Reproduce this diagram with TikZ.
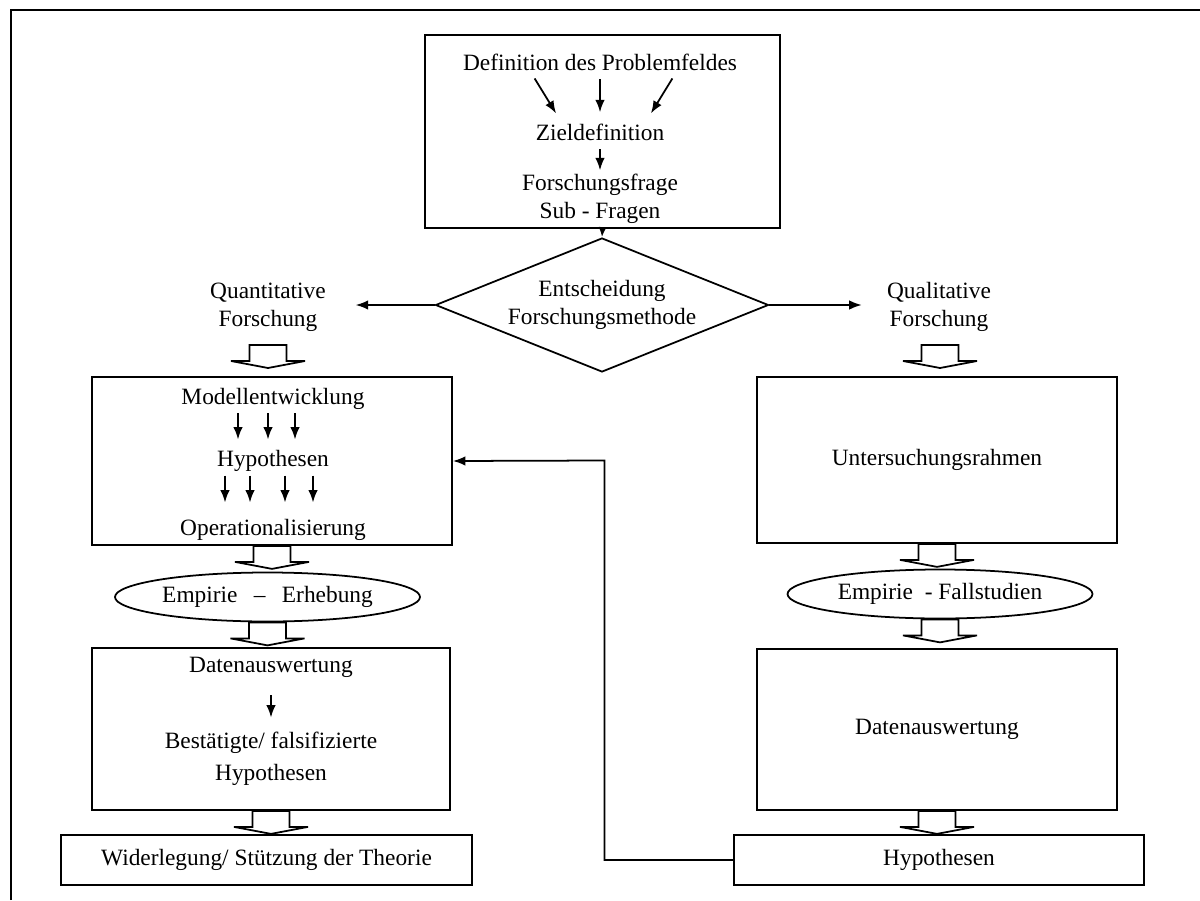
\documentclass[tikz,border=0pt]{standalone}
\usepackage{fontspec}
\setmainfont{Liberation Serif}
\usepackage{tikz}
\usetikzlibrary{shapes.geometric, arrows.meta, positioning, calc}

\begin{document}
\begin{tikzpicture}[
        every node/.style={font=\fontsize{13.3}{16}\selectfont},
        boxstyle/.style={
            rectangle, 
            draw=black, 
            line width=1pt, 
            inner sep=0pt, 
            align=center
        },
        txt/.style={inner sep=2pt, align=center},
        ovalbox/.style={ellipse, draw=black, line width=1pt, inner sep=0pt, minimum width=6.1cm, minimum height=0.98cm},
        decbox/.style={diamond, draw=black, line width=1pt, inner sep=0pt, aspect=2.5, minimum width=6.66cm, minimum height=2.68cm, align=center},
        arr/.style={-{Latex[length=2.5mm, width=1.9mm]}, line width=1pt},
        hollowarrow/.pic={
            \draw[line width=1pt, fill=white] (-0.37,0) -- (-0.37,-0.32) -- (-0.74,-0.32) -- (0,-0.46)
                -- (0.74,-0.32) -- (0.37,-0.32) -- (0.37,0) -- cycle;
        }
    ]
        \useasboundingbox (0,0) rectangle (24,18);
        \draw[line width=1.4pt] (0.22,0) -- (0.22,17.8) -- (24,17.8);

        % problem definition
        \node[boxstyle, minimum width=7.1cm, minimum height=3.86cm] (prob) at (12.05,15.37) {};
        \node[txt] (def) at (12.0,16.76) {Definition des Problemfeldes};
        \node[txt] (ziel) at (12.0,15.36) {Zieldefinition};
        \node[txt] (frage) at (12.0,14.02) {Forschungsfrage\\Sub - Fragen};
        \draw[arr, shorten <=1mm, shorten >=1.5mm] ([xshift=-1.36cm]def.south) -- ([xshift=-0.8cm]ziel.north);
        \draw[arr, shorten <=1mm, shorten >=1.5mm] (def.south) -- (ziel.north);
        \draw[arr, shorten <=1mm, shorten >=1.5mm] ([xshift=1.5cm]def.south) -- ([xshift=0.94cm]ziel.north);
        \draw[arr, shorten <=1mm] (ziel.south) -- (frage.north);

        % decision
        \node[decbox] (decide) at (12.04,11.9) {Entscheidung\\Forschungsmethode};
        \draw[-{Latex[length=2mm, width=1.6mm]}, line width=1pt] (prob.south) -- (decide.north);
        \node[txt] (quant) at (5.36,11.86) {Quantitative\\Forschung};
        \node[txt] (qual) at (18.78,11.86) {Qualitative\\Forschung};
        \draw[arr, shorten >=5.2mm] (decide.west) -- (decide.west -| quant.east);
        \draw[arr, shorten >=4.3mm] (decide.east) -- (decide.east -| qual.west);
        \pic at (5.36,11.1) {hollowarrow};
        \pic at (18.8,11.1) {hollowarrow};

        % quantitative branch
        \node[boxstyle, minimum width=7.2cm, minimum height=3.36cm] (modell) at (5.44,8.78) {};
        \node[txt] (modtxt) at (5.46,10.02) {Modellentwicklung};
        \node[txt] (hypo) at (5.46,8.78) {Hypothesen};
        \node[txt] (oper) at (5.46,7.4) {Operationalisierung};
        \foreach \dx in {-0.7,-0.1,0.44}
            \draw[arr, shorten >=1.4mm] ([xshift=\dx cm]modtxt.south) -- ([xshift=\dx cm]hypo.north);
        \foreach \dx in {-0.96,-0.46,0.24,0.8}
            \draw[arr, shorten >=2.6mm] ([xshift=\dx cm]hypo.south) -- ([xshift=\dx cm]oper.north);
        \pic at (modell.south) {hollowarrow};
        \node[ovalbox] (erheb) at (5.35,6.06) {Empirie\hspace{0.7em}–\hspace{0.7em}Erhebung};
        \pic at (erheb.south) {hollowarrow};
        \node[boxstyle, minimum width=7.16cm, minimum height=3.24cm] (auswl) at (5.42,3.42) {};
        \node[txt] (dat1) at (5.42,4.66) {Datenauswertung};
        \node[txt, font=\fontsize{13.3}{18}\selectfont] (best) at (5.42,2.82) {Bestätigte/ falsifizierte\\Hypothesen};
        \draw[arr, shorten <=2.8mm, shorten >=2.2mm] (dat1.south) -- (best.north);
        \pic at (auswl.south) {hollowarrow};
        \node[boxstyle, minimum width=8.22cm, minimum height=1.0cm] (theorie) at (5.33,0.8) {Widerlegung/ Stützung der Theorie};

        % qualitative branch
        \node[boxstyle, minimum width=7.2cm, minimum height=3.32cm] (unters) at (18.74,8.8) {Untersuchungsrahmen};
        \pic at (unters.south) {hollowarrow};
        \node[ovalbox] (fall) at (18.8,6.12) {Empirie \ - Fallstudien};
        \pic at (fall.south) {hollowarrow};
        \node[boxstyle, minimum width=7.2cm, minimum height=3.22cm] (auswr) at (18.74,3.41) {Datenauswertung};
        \pic at (auswr.south) {hollowarrow};
        \node[boxstyle, minimum width=8.2cm, minimum height=1.0cm] (hyp2) at (18.78,0.8) {Hypothesen};

        % feedback to the model
        \coordinate (back) at ($(modell.east)!0.5!(unters.west)$);
        \draw[arr] (hyp2.west) -| (back) -- (modell.east);
    \end{tikzpicture}
\end{document}
